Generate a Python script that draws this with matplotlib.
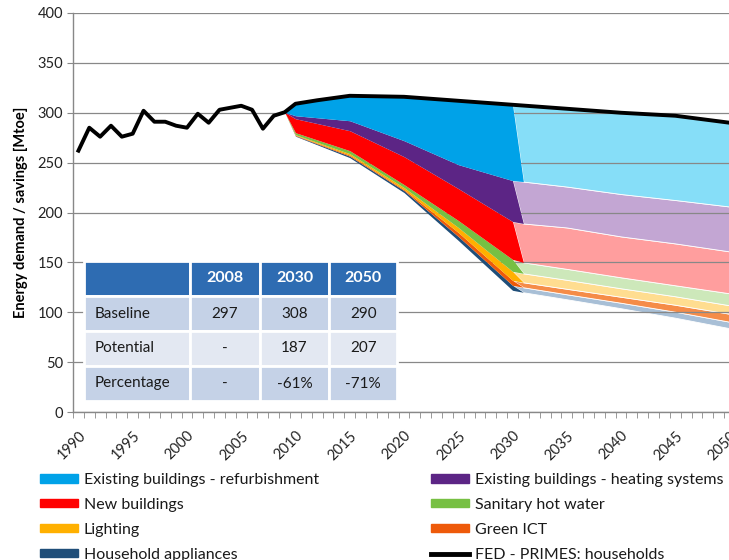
import numpy as np
import matplotlib.pyplot as plt
from matplotlib.patches import Patch
from matplotlib.lines import Line2D

# final energy demand of households (baseline), Mtoe
hist_years = list(range(1990, 2010))
hist_demand = [262, 285, 276, 287, 276, 279, 302, 291, 291, 287,
               285, 299, 290, 303, 305, 307, 303, 284, 297, 300.5]
proj_years = [2010, 2012, 2015, 2020, 2025, 2030, 2035, 2040, 2045, 2050]
proj_demand = [309, 312.5, 317, 316, 312, 308, 304, 300, 297, 290]

# savings wedges, first phase (strong colours) and second phase (pale colours)
sat_years = [2009, 2010, 2015, 2020, 2025, 2030]
light_years = [2031, 2035, 2040, 2045, 2050]

remaining_sat = [300.5, 276.5, 255, 220, 172, 122]
remaining_light = [120, 113, 104, 94.5, 84]

appliances_sat = [0, 0.5, 1.5, 2, 4, 5]
ict_sat = [0, 0.5, 1, 1, 4, 5]
lighting_sat = [0, 0.5, 1.5, 2, 5, 9]
hot_water_sat = [0, 2, 3, 3, 7, 12]
new_sat = [0, 14, 20, 28, 32, 38]
heating_sat = [0, 3, 10, 16, 24, 41]
refurb_sat = [0, 12, 25, 44, 64, 76]

appliances_light = [5, 5, 5.5, 6, 6.5]
ict_light = [5, 5.5, 6, 7, 8]
lighting_light = [9, 9, 8.5, 8.5, 8.5]
hot_water_light = [11, 11, 11, 11, 12]
new_light = [39, 41.5, 41, 42, 42]
heating_light = [42, 41, 42.5, 43.5, 45]
refurb_light = [76, 78, 81, 84.5, 84]

labels = ['Household appliances', 'Green ICT', 'Lighting', 'Sanitary hot water',
          'New buildings', 'Existing buildings - heating systems',
          'Existing buildings - refurbishment']
sat_colors = ['#1F4E79', '#EE5A0A', '#FFB000', '#77C043', '#FF0000', '#5C2585', '#00A2E8']
light_colors = ['#A8BFD6', '#F58C48', '#FFDD90', '#CDE8BA', '#FF9E9E', '#C3A6D3', '#86DEF8']

table_cols = ['', '2008', '2030', '2050']
table_rows = [['Baseline', '297', '308', '290'],
              ['Potential', '-', '187', '207'],
              ['Percentage', '-', '-61%', '-71%']]

plt.rcParams['font.family'] = ['Lato', 'DejaVu Sans']

fig = plt.figure(figsize=(7.29, 5.6), dpi=100)
ax = fig.add_axes([73 / 729, 1 - 412 / 560, 662 / 729, 399 / 560])

# interleaved stack: remaining demand at the bottom, then strong/pale per measure
years_all = np.array(sat_years + light_years)
n_sat, n_light = len(sat_years), len(light_years)
sat_series = [appliances_sat, ict_sat, lighting_sat, hot_water_sat, new_sat, heating_sat, refurb_sat]
light_series = [appliances_light, ict_light, lighting_light, hot_water_light, new_light,
                heating_light, refurb_light]

level = np.array(remaining_sat + remaining_light, dtype=float)
sat_part = slice(0, n_sat + 1)      # up to the first pale year
light_part = slice(n_sat - 1, None)  # from the last strong year
for s, l, cs, cl in zip(sat_series, light_series, sat_colors, light_colors):
    s_full = np.array(s + [0] * n_light, dtype=float)
    top = level + s_full
    ax.fill_between(years_all[sat_part], level[sat_part], top[sat_part],
                    color=cs, lw=0, zorder=2)
    level = top
    l_full = np.array([0] * n_sat + l, dtype=float)
    top = level + l_full
    ax.fill_between(years_all[light_part], level[light_part], top[light_part],
                    facecolor=cl, edgecolor='white', lw=0.6, zorder=1)
    level = top

ax.plot(hist_years + proj_years, hist_demand + proj_demand, color='black', lw=2.8,
        zorder=3, solid_joinstyle='round')

ax.set_xlim(1989.5, 2050.5)
ax.set_ylim(0, 400)
ax.set_yticks(range(0, 401, 50))
ax.grid(axis='y', color='#888888', lw=0.9)
ax.set_axisbelow('line')
for side in ['top', 'right']:
    ax.spines[side].set_visible(False)
for side in ['left', 'bottom']:
    ax.spines[side].set_color('#888888')
    ax.spines[side].set_linewidth(1.0)
ax.tick_params(axis='y', length=4, color='#888888', labelsize=10.5, labelcolor='#222222', pad=3)

ax.set_xticks(range(1990, 2051, 5))
ax.set_xticks(np.arange(1989.5, 2051, 1), minor=True)
ax.tick_params(axis='x', which='major', length=0, labelsize=10.5, labelcolor='#222222',
               pad=12, labelrotation=45)
ax.tick_params(axis='x', which='minor', length=4, color='#888888')
for t in ax.get_xticklabels():
    t.set_ha('right')
    t.set_rotation_mode('anchor')
    t.set_va('top')

ax.set_ylabel('Energy demand / savings [Mtoe]', fontsize=10.5, fontweight='bold',
              color='black', labelpad=7)

# summary table
tab = ax.table(cellText=[table_cols] + table_rows, cellLoc='center',
               colWidths=[105, 69, 69, 67],
               bbox=[(84 - 73) / 662, (412 - 401) / 399, (397 - 84) / 662, (401 - 261) / 399])
tab.auto_set_font_size(False)
tab.set_fontsize(11)
tab.set_zorder(5)
row_colors = ['#2E6CB2', '#C5D2E7', '#E3E8F2', '#C5D2E7']
for (r, c), cell in tab.get_celld().items():
    cell.set_edgecolor('white')
    cell.set_linewidth(2)
    cell.set_facecolor(row_colors[r])
    if r == 0:
        cell.get_text().set_color('white')
        cell.get_text().set_fontweight('bold')
        cell.get_text().set_fontsize(11.5)
    else:
        cell.get_text().set_color('#1a1a1a')
    if c == 0:
        cell._loc = 'left'
        cell.get_text().set_ha('left')

# legend, two columns placed separately
handles = [Patch(color=c) for c in sat_colors]
col1 = [6, 4, 2, 0]
col2 = [5, 3, 1]
leg_font = {'family': ['Liberation Sans Narrow', 'Lato', 'DejaVu Sans'], 'size': 11.5}
leg_kw = dict(frameon=False, prop=leg_font, handlelength=2.4, handleheight=0.45,
              handletextpad=0.35, labelspacing=0.68, borderpad=0, borderaxespad=0,
              loc='upper left', labelcolor='#1a1a1a')
fig.legend([handles[i] for i in col1], [labels[i] for i in col1],
           bbox_to_anchor=(40 / 729, 1 - 473 / 560), **leg_kw)
fig.legend([handles[i] for i in col2] + [Line2D([], [], color='black', lw=3.5)],
           [labels[i] for i in col2] + ['FED - PRIMES: households'],
           bbox_to_anchor=(431 / 729, 1 - 473 / 560), **leg_kw)

fig.savefig('out.png', dpi=100)
